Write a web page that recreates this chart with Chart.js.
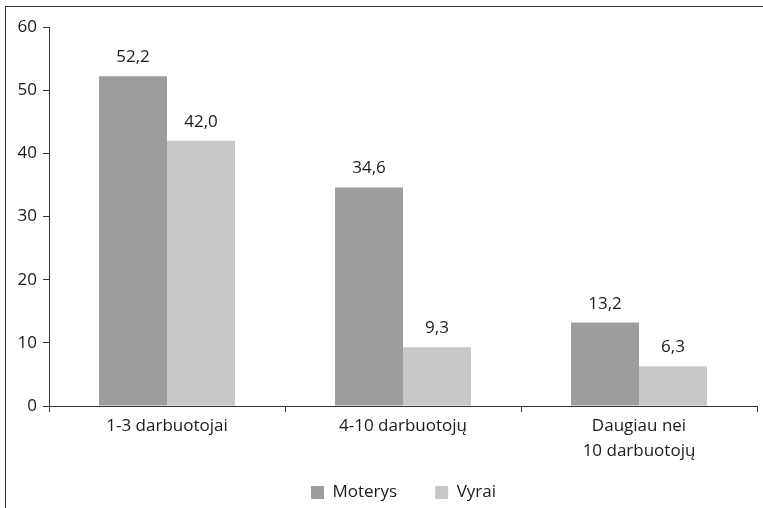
<!DOCTYPE html>
<html lang="lt">
<head>
  <meta charset="UTF-8" />
  <title>Darbuotojų skaičius</title>
  <script src="https://cdn.jsdelivr.net/npm/chart.js"></script>
  <style>
    body {
      margin: 0;
      background: #fff;
      overflow: hidden;
    }
    #frame {
      position: absolute;
      left: 5px;
      top: 6px;
      width: 800px;
      height: 560px;
      border: 1px solid #333;
    }
    #chart-container {
      position: absolute;
      left: 0;
      top: 0;
      width: 763px;
      height: 508px;
    }
  </style>
</head>
<body>
  <div id="frame"></div>
  <div id="chart-container">
    <canvas id="workersChart"></canvas>
  </div>

  <script>
    const categories = ['1-3 darbuotojai', '4-10 darbuotojų', ['Daugiau nei', '10 darbuotojų']];
    const moterys = [52.2, 34.6, 13.2];
    const vyrai = [42.0, 9.3, 6.3];
    const yTicks = [0, 10, 20, 30, 40, 50, 60];

    const fontFamily = '"Open Sans", "Noto Sans", sans-serif';

    // writes the value above each bar, with a decimal comma
    const valueLabels = {
      id: 'valueLabels',
      afterDatasetsDraw(chart) {
        const ctx = chart.ctx;
        ctx.save();
        ctx.font = '17px ' + fontFamily;
        ctx.fillStyle = '#1a1a1a';
        ctx.textAlign = 'center';
        ctx.textBaseline = 'alphabetic';
        chart.data.datasets.forEach((ds, i) => {
          chart.getDatasetMeta(i).data.forEach((bar, j) => {
            const text = ds.data[j].toFixed(1).replace('.', ',');
            ctx.fillText(text, bar.x, bar.y - 14);
          });
        });
        ctx.restore();
      }
    };

    // wide gap between legend items, but keep the legend short and
    // centred under the plot area rather than the whole canvas
    const legendHeight = 44;
    const legendShiftY = -18;
    const legendShiftX = 25;
    const legendFit = {
      id: 'legendFit',
      beforeLayout(chart) {
        const legend = chart.legend;
        if (legend && !legend._patched) {
          const fit = legend.fit;
          legend.fit = function () {
            fit.call(this);
            this.height = legendHeight;
          };
          const draw = legend.draw;
          legend.draw = function () {
            const top = this.top, left = this.left, right = this.right;
            this.top = top + legendShiftY;
            this.left = left + legendShiftX;
            this.right = right + legendShiftX;
            draw.call(this);
            this.top = top;
            this.left = left;
            this.right = right;
          };
          legend._patched = true;
        }
      }
    };

    const ctx = document.getElementById('workersChart').getContext('2d');
    new Chart(ctx, {
      type: 'bar',
      data: {
        labels: categories,
        datasets: [
          {
            label: 'Moterys',
            data: moterys,
            backgroundColor: '#9d9d9d',
            categoryPercentage: 0.576,
            barPercentage: 1.0
          },
          {
            label: 'Vyrai',
            data: vyrai,
            backgroundColor: '#c8c8c8',
            categoryPercentage: 0.576,
            barPercentage: 1.0
          }
        ]
      },
      options: {
        responsive: true,
        maintainAspectRatio: false,
        animation: false,
        layout: {
          padding: { left: 0, right: 6, top: 27, bottom: 0 }
        },
        scales: {
          x: {
            offset: true,
            grid: {
              offset: true,
              drawOnChartArea: false,
              drawTicks: true,
              tickLength: 6,
              color: '#333'
            },
            border: { color: '#333', width: 1 },
            ticks: {
              color: '#1a1a1a',
              font: { family: fontFamily, size: 17, lineHeight: 1.45 },
              padding: 2,
              maxRotation: 0
            },
            afterFit(scale) { scale.height = 102 - legendHeight; }
          },
          y: {
            min: 0,
            max: 60,
            afterBuildTicks(scale) {
              scale.ticks = yTicks.map(v => ({ value: v }));
            },
            grid: {
              drawOnChartArea: false,
              drawTicks: true,
              tickLength: 6,
              color: '#333'
            },
            border: { color: '#333', width: 1 },
            ticks: {
              color: '#1a1a1a',
              font: { family: fontFamily, size: 17 },
              padding: 6
            },
            afterFit(scale) { scale.width = 49; }
          }
        },
        plugins: {
          legend: {
            display: true,
            position: 'bottom',
            labels: {
              boxWidth: 13,
              boxHeight: 13,
              padding: 38,
              color: '#1a1a1a',
              font: { family: fontFamily, size: 17 }
            }
          },
          tooltip: { enabled: false }
        }
      },
      plugins: [valueLabels, legendFit]
    });
  </script>
</body>
</html>
